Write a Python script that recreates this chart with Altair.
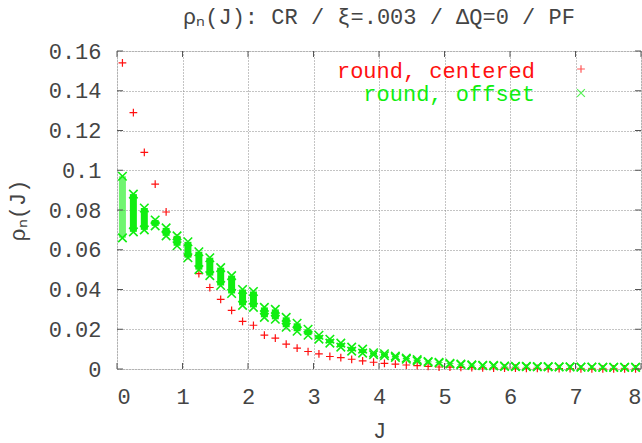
import altair as alt
import pandas as pd

# ---- data ----
J = [0.083, 0.25, 0.417, 0.583, 0.75, 0.917, 1.083, 1.25, 1.417, 1.583, 1.75, 1.917,
     2.083, 2.25, 2.417, 2.583, 2.75, 2.917, 3.083, 3.25, 3.417, 3.583, 3.75, 3.917,
     4.083, 4.25, 4.417, 4.583, 4.75, 4.917, 5.083, 5.25, 5.417, 5.583, 5.75, 5.917,
     6.083, 6.25, 6.417, 6.583, 6.75, 6.917, 7.083, 7.25, 7.417, 7.583, 7.75, 7.917]

red_centered = [0.154, 0.129, 0.109, 0.093, 0.079, 0.066, 0.057, 0.048, 0.041, 0.035, 0.0295, 0.024,
                0.022, 0.017, 0.0155, 0.0125, 0.0105, 0.0088, 0.0076, 0.0063, 0.0057, 0.0049, 0.0041, 0.0034,
                0.0028, 0.0025, 0.0020, 0.0017, 0.0013, 0.0010, 0.0009, 0.0008, 0.0007, 0.0006, 0.0005, 0.0004,
                0.0004, 0.0003, 0.0003, 0.0002, 0.0002, 0.0002, 0.0001, 0.0001, 0.0001, 0.0001, 0.0001, 0.0001]

green_lo = [0.066, 0.069, 0.070, 0.072, 0.067, 0.062, 0.056, 0.050, 0.047, 0.042, 0.038, 0.032,
            0.031, 0.026, 0.025, 0.021, 0.019, 0.017, 0.015, 0.013, 0.011, 0.009, 0.008, 0.0072,
            0.0067, 0.0058, 0.0049, 0.0041, 0.0034, 0.0030, 0.0025, 0.0022, 0.0018, 0.0017, 0.0016, 0.0013,
            0.0012, 0.0012, 0.0011, 0.0011, 0.0010, 0.0010, 0.0009, 0.0009, 0.0008, 0.0008, 0.0008, 0.0008]
green_hi = [0.097, 0.088, 0.081, 0.075, 0.071, 0.067, 0.064, 0.059, 0.056, 0.051, 0.047, 0.040,
            0.039, 0.031, 0.030, 0.026, 0.023, 0.020, 0.017, 0.015, 0.013, 0.011, 0.010, 0.0082,
            0.0077, 0.0065, 0.0055, 0.0047, 0.0038, 0.0034, 0.0029, 0.0025, 0.0021, 0.0019, 0.0018, 0.0015,
            0.0014, 0.0013, 0.0012, 0.0012, 0.0011, 0.0011, 0.0010, 0.0010, 0.0009, 0.0009, 0.0009, 0.0009]

x_ticks = [0, 1, 2, 3, 4, 5, 6, 7, 8]
y_ticks = [0, 0.02, 0.04, 0.06, 0.08, 0.1, 0.12, 0.14, 0.16]
legend_labels = ["round, centered", "round, offset"]

# ---- styling ----
RED = "#ff1010"
GREEN = "#10ee10"
TXT = "#444444"
FONT = "Liberation Mono"
W, H = 524, 318
PLUS = "M-1,0L1,0M0,-1L0,1"
CROSS = "M-1,-1L1,1M-1,1L1,-1"

df_red = pd.DataFrame({"J": J, "rho": red_centered})
df_g = pd.DataFrame({"J": J, "lo": green_lo, "hi": green_hi})
df_xt = pd.DataFrame({"J": x_ticks})
df_yt = pd.DataFrame({"lo": y_ticks})
df_leg_c = pd.DataFrame({"label": [legend_labels[0]]})
df_leg_o = pd.DataFrame({"label": [legend_labels[1]]})

xs = alt.Scale(domain=[0, 8], nice=False, zero=False)
ys = alt.Scale(domain=[0, 0.16], nice=False)

x_axis = alt.Axis(values=x_ticks, title="J", labelFont=FONT, labelFontSize=22, labelColor=TXT,
                  ticks=False, domain=False, labelPadding=17, grid=True, gridDash=[1, 2],
                  gridColor="#888888", titleFont=FONT, titleFontSize=22, titleFontWeight="normal",
                  titleColor=TXT, titlePadding=13)
y_axis = alt.Axis(values=y_ticks, format="~g", title="ρₙ(J)", labelFont=FONT, labelFontSize=22,
                  labelColor=TXT, ticks=False, domain=False, labelPadding=16, grid=True,
                  gridDash=[1, 2], gridColor="#888888", titleFont=FONT, titleFontSize=22,
                  titleFontWeight="normal", titleColor=TXT, titlePadding=19)


def X(field):
    return alt.X(field, type="quantitative", scale=xs, axis=x_axis)


def Y(field):
    return alt.Y(field, type="quantitative", scale=ys, axis=y_axis)


reds = alt.Chart(df_red).mark_point(shape=PLUS, size=60, color=RED, strokeWidth=1.2, filled=False, opacity=1).encode(
    x=X("J"), y=Y("rho"))
band = alt.Chart(df_g).mark_rule(color=GREEN, strokeWidth=7).encode(
    x=X("J"), y=Y("lo"), y2="hi:Q",
    opacity=alt.condition(alt.datum.J < 0.1, alt.value(0.6), alt.value(1.0)),
)
g_top = alt.Chart(df_g).mark_point(shape=CROSS, size=72, color=GREEN, strokeWidth=1.6, filled=False, opacity=1).encode(
    x=X("J"), y=Y("hi"))
g_bot = alt.Chart(df_g).mark_point(shape=CROSS, size=72, color=GREEN, strokeWidth=1.6, filled=False, opacity=1).encode(
    x=X("J"), y=Y("lo"))

tick_col = "#555555"
xt_bot = alt.Chart(df_xt).mark_rule(color=tick_col).encode(
    x=X("J"), y=alt.value(H), y2=alt.value(H - 6))
xt_top = alt.Chart(df_xt).mark_rule(color=tick_col).encode(
    x=X("J"), y=alt.value(0), y2=alt.value(6))
yt_left = alt.Chart(df_yt).mark_rule(color=tick_col).encode(
    y=Y("lo"), x=alt.value(0), x2=alt.value(6))
yt_right = alt.Chart(df_yt).mark_rule(color=tick_col).encode(
    y=Y("lo"), x=alt.value(W), x2=alt.value(W - 6))

leg_text_c = alt.Chart(df_leg_c).mark_text(font=FONT, fontSize=22, align="right", baseline="middle", color=RED).encode(
    text="label:N", x=alt.value(418), y=alt.value(20))
leg_text_o = alt.Chart(df_leg_o).mark_text(font=FONT, fontSize=22, align="right", baseline="middle", color=GREEN).encode(
    text="label:N", x=alt.value(418), y=alt.value(43))
leg_c = alt.Chart(df_leg_c).mark_point(shape=PLUS, size=60, color=RED, strokeWidth=1.2, filled=False).encode(
    x=alt.value(464), y=alt.value(18), detail="label:N")
leg_o = alt.Chart(df_leg_o).mark_point(shape=CROSS, size=60, color=GREEN, strokeWidth=1.2, filled=False).encode(
    x=alt.value(464), y=alt.value(42), detail="label:N")

chart = alt.layer(
    reds, band, g_top, g_bot, xt_bot, xt_top, yt_left, yt_right, leg_text_c, leg_text_o, leg_c, leg_o
).properties(
    width=W, height=H,
    title=alt.TitleParams(text="ρₙ(J): CR / ξ=.003 / ΔQ=0 / PF", font=FONT, fontSize=22,
                          fontWeight="normal", color=TXT, anchor="middle", offset=11),
    autosize=alt.AutoSizeParams(type="none"),
    padding={"left": 117, "top": 51, "right": 1, "bottom": 74},
).configure_view(stroke="#555555", strokeWidth=1.2).configure(background="white")

chart.save("out.html", embed_options={"renderer": "svg", "actions": False})
